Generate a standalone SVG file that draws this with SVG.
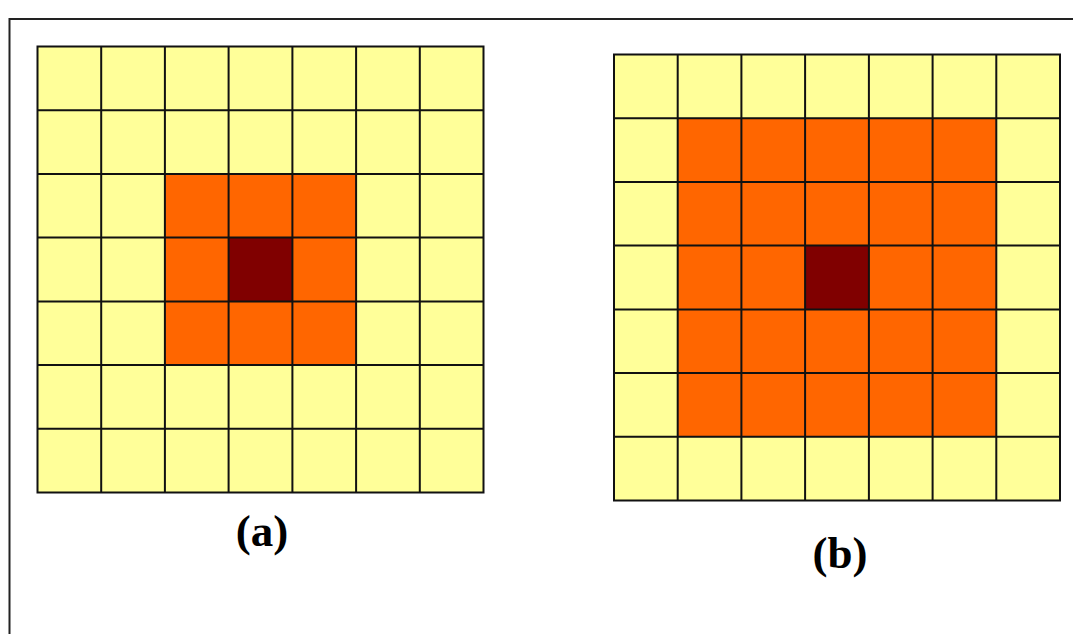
<svg xmlns="http://www.w3.org/2000/svg" width="1073" height="634" viewBox="0 0 1073 634">
<style>
.y{fill:#FFFF99}
.o{fill:#FF6600}
.d{fill:#800000}
.g{fill:none;stroke:#111;stroke-width:2}
.lbl{font-family:"Liberation Serif",serif;font-weight:bold;font-size:45px;fill:#000;text-anchor:middle}
</style>
<rect width="1073" height="634" fill="#fff"/>
<path d="M9.5,640 V19 H1080" fill="none" stroke="#222" stroke-width="2"/>
<g id="gridA">
<rect class="y" x="37.5" y="46.5" width="446" height="446"/>
<rect class="o" x="164.9" y="173.9" width="191.2" height="191.2"/>
<rect class="d" x="228.6" y="237.6" width="63.7" height="63.7"/>
<path class="g" d="M37.5,46.5h446v446h-446z M101.2,46.5v446 M164.9,46.5v446 M228.6,46.5v446 M292.4,46.5v446 M356.1,46.5v446 M419.8,46.5v446 M37.5,110.2h446 M37.5,173.9h446 M37.5,237.6h446 M37.5,301.4h446 M37.5,365.1h446 M37.5,428.8h446"/>
</g>
<g id="gridB">
<rect class="y" x="614" y="54.5" width="446" height="446"/>
<rect class="o" x="677.7" y="118.2" width="318.6" height="318.6"/>
<rect class="d" x="805.1" y="245.6" width="63.7" height="63.7"/>
<path class="g" d="M614,54.5h446v446h-446z M677.7,54.5v446 M741.4,54.5v446 M805.1,54.5v446 M868.9,54.5v446 M932.6,54.5v446 M996.3,54.5v446 M614,118.2h446 M614,181.9h446 M614,245.6h446 M614,309.4h446 M614,373.1h446 M614,436.8h446"/>
</g>
<text id="labelA" class="lbl" x="262" y="546">(a)</text>
<text id="labelB" class="lbl" x="840" y="568">(b)</text>
</svg>
